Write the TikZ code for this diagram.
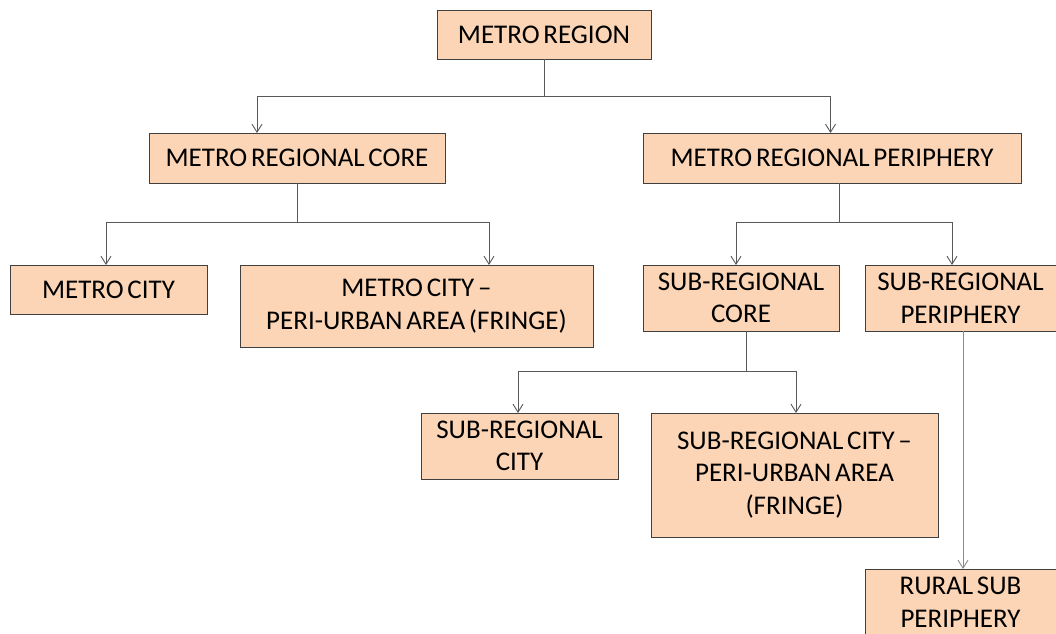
\documentclass[tikz,border=0pt]{standalone}
\usepackage{fontspec}
\setmainfont{Carlito}
\usetikzlibrary{arrows.meta}
\definecolor{boxfill}{HTML}{FBD5B5}
\definecolor{boxline}{HTML}{404040}
\definecolor{linkline}{HTML}{595959}
% box lettering with narrow word spaces
\newcommand\boxletters{\fontsize{27}{32.5}\selectfont\spaceskip=0.14em plus 0.05em\relax}
\begin{document}
\begin{tikzpicture}[x=1pt,y=-1pt,
  unit/.style={draw=boxline, fill=boxfill, line width=1pt, inner sep=0pt, outer sep=0pt,
    align=center, font=\boxletters, text=black},
  link/.style={draw=linkline, line width=1pt},
  arrowlink/.style={link, -{Straight Barb[length=8pt,width=10pt,line width=0.9pt]}}]
\useasboundingbox (0,0) rectangle (1056,633);
\clip (0,0) rectangle (1056,633);

% boxes of the hierarchy
\node[unit, minimum width=214, minimum height=49] (mr) at (544,34.5) {METRO REGION};
\node[unit, minimum width=296, minimum height=50] (mrc) at (297,158) {METRO REGIONAL CORE};
\node[unit, minimum width=378, minimum height=50] (mrp) at (832,158) {METRO REGIONAL PERIPHERY};
\node[unit, minimum width=197, minimum height=49] (mc) at (108.5,289.5) {METRO CITY};
\node[unit, minimum width=353, minimum height=82] (mcpu) at (416.5,306) {METRO CITY --\\PERI-URBAN AREA (FRINGE)};
\node[unit, minimum width=196, minimum height=66] (src) at (741,298) {SUB-REGIONAL\\CORE};
\node[unit, minimum width=191, minimum height=66] (srp) at (960.5,298) {SUB-REGIONAL\\PERIPHERY};
\node[unit, minimum width=197, minimum height=66] (srcity) at (519.5,446) {SUB-REGIONAL\\CITY};
\node[unit, minimum width=287, minimum height=124] (srcpu) at (794.5,475) {SUB-REGIONAL CITY --\\PERI-URBAN AREA\\(FRINGE)};
\node[unit, minimum width=191, minimum height=66] (rural) at (960.5,602) {RURAL SUB\\PERIPHERY};

% branching points
\coordinate (j0) at (544,96);
\coordinate (j1) at (297,222.5);
\coordinate (j2) at (839,222.5);
\coordinate (j3) at (746,371.5);

% connectors
\draw[link] (mr.south) -- (j0);
\draw[arrowlink] (j0) -| ([xshift=-40]mrc.north);
\draw[arrowlink] (j0) -| ([xshift=-1.5]mrp.north);

\draw[link] (mrc.south) -- (j1);
\draw[arrowlink] (j1) -| ([xshift=-2.5]mc.north);
\draw[arrowlink] (j1) -| ([xshift=72.5]mcpu.north);

\draw[link] ([xshift=7]mrp.south) -- (j2);
\draw[arrowlink] (j2) -| ([xshift=-5]src.north);
\draw[arrowlink] (j2) -| ([xshift=-8.5]srp.north);

\draw[link] ([xshift=5]src.south) -- (j3);
\draw[arrowlink] (j3) -| ([xshift=-1.5]srcity.north);
\draw[arrowlink] (j3) -| ([xshift=1.5]srcpu.north);

\draw[arrowlink, draw=linkline!70] ([xshift=2.5]srp.south) -- ([xshift=2.5]rural.north);
\end{tikzpicture}
\end{document}
